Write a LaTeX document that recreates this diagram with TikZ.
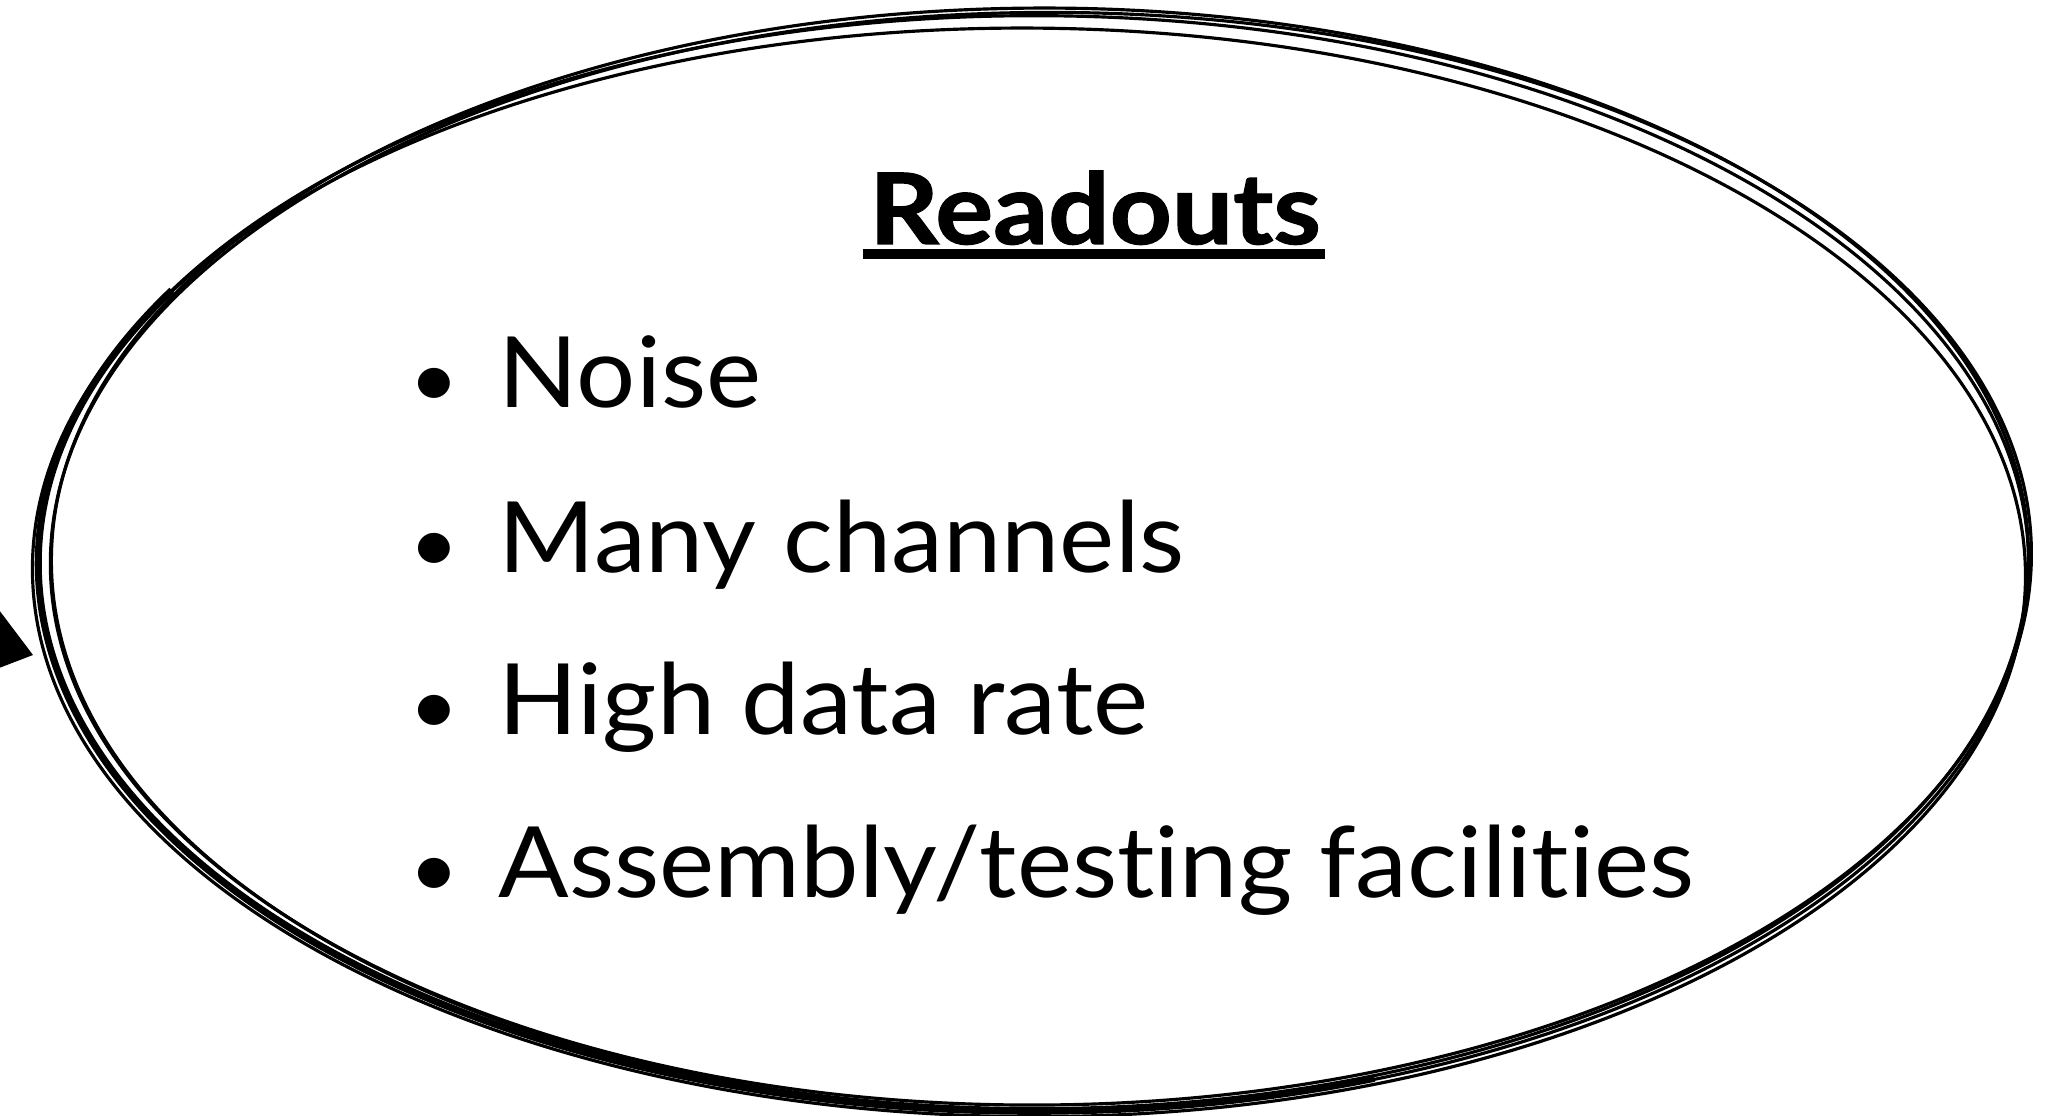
\documentclass[tikz,border=0pt]{standalone}
\usepackage{fontspec}
\setmainfont{Lato}[Ligatures=NoCommon, FakeStretch=1.06]
\newfontfamily\ttlfont{Lato}[Ligatures=NoCommon, FakeStretch=1.1, FakeBold=1.2]
\usetikzlibrary{arrows.meta,positioning}
\definecolor{inkblack}{RGB}{0,0,0}
\newcommand{\bul}{\llap{{\fontsize{23}{23}\selectfont\textbullet}\hspace{0.39cm}}}
\tikzset{
  sketch/.style={draw=inkblack, line width=0.9pt},
  ttl/.style={font=\fontsize{28}{32}\selectfont\ttlfont\bfseries, inner sep=0pt, anchor=base},
  itm/.style={font=\fontsize{28}{32}\selectfont, inner sep=0pt, anchor=base west},
  ptr/.style={-{Triangle[length=1.2cm, width=1.8cm]}, inkblack, line width=1pt},
}
\begin{document}
\begin{tikzpicture}[x=0.01cm, y=-0.01cm]
  \useasboundingbox (0,0) rectangle (2065,1116);
  \clip (0,0) rectangle (2065,1116);
  % hand drawn outline
  \foreach \dx/\dy/\rx/\ry/\rot in {0/0/9.94/5.48/0, 3/2/9.90/5.46/0.4, -2/3/9.96/5.44/-0.3, 4/-2/9.88/5.50/0.2}
    \draw[sketch] (1034+\dx,564+\dy) [rotate=\rot] ellipse (\rx cm and \ry cm);
  \draw[sketch, line width=2pt] (1034,564) ++(150:9.95cm and 5.47cm) arc (150:290:9.95cm and 5.47cm);
  % title
  \node[ttl] (title) at (1095,244) {Readouts};
  \draw[line width=2.6pt] ([yshift=-0.1cm, xshift=-0.06cm]title.base west) -- ([yshift=-0.1cm, xshift=0.04cm]title.base east);
  % bullet list
  \node[itm] (noise) at (498,408) {\bul Noise};
  \node[itm] (chan) at (498,573) {\bul Many channels};
  \node[itm] (rate) at (498,735) {\bul High data rate};
  \node[itm] (fac) at (498,898) {\bul Assembly/testing facilities};
  % pointer from the left
  \coordinate (src) at (-257,572);
  \coordinate (tip) at (33,655);
  \draw[ptr] (src) -- (tip);
\end{tikzpicture}
\end{document}
